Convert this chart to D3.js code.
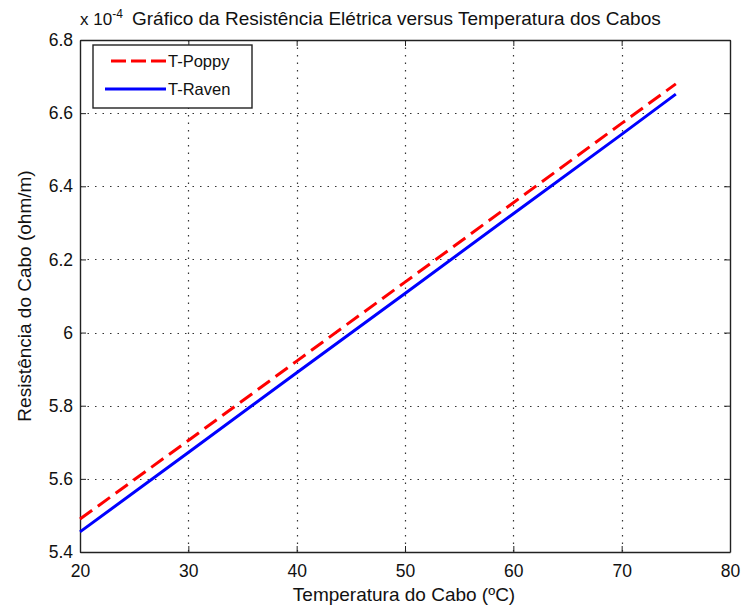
<!DOCTYPE html>
<html>
<head>
<meta charset="utf-8">
<script src="https://cdn.jsdelivr.net/npm/d3@7"></script>
<style>
  body { margin: 0; background: #fff; }
  text { font-family: "Liberation Sans", Arial, sans-serif; fill: #111; }
</style>
</head>
<body>
<div id="chart"></div>
<script>
// data (resistance in units of 1e-4 ohm/m)
const temps = [20, 30, 40, 50, 60, 70, 75]
const poppy = [5.49, 5.705, 5.922, 6.138, 6.355, 6.572, 6.68]
const raven = [5.455, 5.672, 5.89, 6.107, 6.325, 6.542, 6.652]
const xTicks = [20, 30, 40, 50, 60, 70, 80]
const yTicks = [5.4, 5.6, 5.8, 6, 6.2, 6.4, 6.6, 6.8]
const seriesNames = ['T-Poppy', 'T-Raven']

const width = 742,
  height = 610
const plot = { left: 80, right: 730, top: 40, bottom: 552 }

const svg = d3.select('#chart')
  .append('svg')
  .attr('width', width)
  .attr('height', height)
  .style('background', '#fff')

const x = d3.scaleLinear().domain([20, 80]).range([plot.left, plot.right])
const y = d3.scaleLinear().domain([5.4, 6.8]).range([plot.bottom, plot.top])

// grid
const grid = svg.append('g')
  .attr('stroke', '#333')
  .attr('stroke-width', 1.2)
  .attr('stroke-dasharray', '1.5,6')
grid.selectAll('.gx')
  .data(xTicks.slice(1, -1))
  .enter()
  .append('line')
  .attr('x1', d => Math.round(x(d)) + 0.5)
  .attr('x2', d => Math.round(x(d)) + 0.5)
  .attr('y1', plot.top)
  .attr('y2', plot.bottom)
grid.selectAll('.gy')
  .data(yTicks.slice(1, -1))
  .enter()
  .append('line')
  .attr('y1', d => Math.round(y(d)) + 0.5)
  .attr('y2', d => Math.round(y(d)) + 0.5)
  .attr('x1', plot.left)
  .attr('x2', plot.right)

// axes (MATLAB style: ticks inward on all four sides)
const tick = 6
const xAxis = d3.axisBottom(x).tickValues(xTicks).tickSizeInner(-tick).tickSizeOuter(0).tickPadding(13)
const yAxis = d3.axisLeft(y).tickValues(yTicks).tickSizeInner(-tick).tickSizeOuter(0).tickPadding(7)
  .tickFormat(d3.format('~g'))

svg.append('g')
  .attr('transform', `translate(0,${plot.bottom})`)
  .call(xAxis)
  .call(g => g.selectAll('text').style('font-size', '17.5px'))

svg.append('g')
  .attr('transform', `translate(${plot.left},0)`)
  .call(yAxis)
  .call(g => g.selectAll('text').style('font-size', '17.5px'))

svg.append('g')
  .attr('transform', `translate(0,${plot.top})`)
  .call(d3.axisTop(x).tickValues(xTicks).tickSizeInner(-tick).tickSizeOuter(0).tickFormat(''))

svg.append('g')
  .attr('transform', `translate(${plot.right},0)`)
  .call(d3.axisRight(y).tickValues(yTicks).tickSizeInner(-tick).tickSizeOuter(0).tickFormat(''))

svg.selectAll('.domain').attr('stroke', '#222').attr('stroke-width', 1.4)
svg.selectAll('.tick line').attr('stroke', '#222')

// lines
const line = d3.line()
  .x((d, i) => x(temps[i]))
  .y(d => y(d))

svg.append('path')
  .datum(poppy)
  .attr('d', line)
  .attr('fill', 'none')
  .attr('stroke', '#ff0000')
  .attr('stroke-width', 3)
  .attr('stroke-dasharray', '15,7')

svg.append('path')
  .datum(raven)
  .attr('d', line)
  .attr('fill', 'none')
  .attr('stroke', '#0000ff')
  .attr('stroke-width', 3)

// legend
const legend = svg.append('g').attr('transform', 'translate(93,45)')
legend.append('rect')
  .attr('width', 159)
  .attr('height', 63)
  .attr('fill', '#fff')
  .attr('stroke', '#222')
  .attr('stroke-width', 1.4)
legend.append('line')
  .attr('x1', 18).attr('x2', 73).attr('y1', 16).attr('y2', 16)
  .attr('stroke', '#ff0000').attr('stroke-width', 3).attr('stroke-dasharray', '15,5')
legend.append('line')
  .attr('x1', 12).attr('x2', 73).attr('y1', 44).attr('y2', 44)
  .attr('stroke', '#0000ff').attr('stroke-width', 3)
legend.selectAll('.lt')
  .data(seriesNames)
  .enter()
  .append('text')
  .attr('x', 75)
  .attr('y', (d, i) => 16 + i * 28)
  .attr('dy', '0.35em')
  .style('font-size', '16.5px')
  .text(d => d)

// title with exponent
const title = svg.append('text')
  .attr('x', 80)
  .attr('y', 25)
  .style('font-size', '17px')
title.append('tspan').text('x 10')
title.append('tspan').attr('dy', -7).style('font-size', '12px').text('-4')
svg.append('text')
  .attr('x', 132)
  .attr('y', 25)
  .style('font-size', '19px')
  .text('Gráfico da Resistência Elétrica versus Temperatura dos Cabos')

// axis labels
svg.append('text')
  .attr('x', (plot.left + plot.right) / 2 - 1)
  .attr('y', 601)
  .attr('text-anchor', 'middle')
  .style('font-size', '19px')
  .text('Temperatura do Cabo (ºC)')

svg.append('text')
  .attr('transform', `translate(31,${(plot.top + plot.bottom) / 2}) rotate(-90)`)
  .attr('text-anchor', 'middle')
  .style('font-size', '19px')
  .text('Resistência do Cabo (ohm/m)')
</script>
</body>
</html>
